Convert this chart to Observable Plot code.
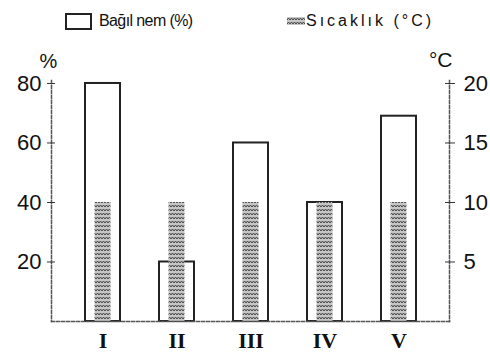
<!DOCTYPE html>
<html><head><meta charset="utf-8">
<script src="https://cdn.jsdelivr.net/npm/d3@7"></script>
<script src="https://cdn.jsdelivr.net/npm/@observablehq/plot@0.6"></script>
<style>
body{margin:0;background:#fff;width:490px;height:353px;overflow:hidden;font-family:"Liberation Sans",Arial,sans-serif;color:#111;}
#legend{position:relative;height:40px;}
#legend .box1{position:absolute;left:65px;top:13px;width:27px;height:17px;box-sizing:border-box;border:2px solid #222;background:#fff;}
#legend .sw2{position:absolute;left:287px;top:17px;}
#legend .t1{position:absolute;left:99px;top:11px;font-size:16px;line-height:20px;letter-spacing:-0.6px;white-space:nowrap;}
#legend .t2{position:absolute;left:306px;top:11px;font-size:16px;line-height:20px;letter-spacing:3px;white-space:nowrap;}
</style></head><body>
<div id="legend">
  <div class="box1"></div><div class="t1" id="lt1"></div>
  <svg class="sw2" width="18" height="8"><defs><pattern id="hatchL" width="6" height="4" patternUnits="userSpaceOnUse"><rect width="6" height="4" fill="#c6c6c6"/><path d="M0,3 L1.5,1 L3,3 L4.5,1 L6,3" stroke="#444" stroke-width="1" fill="none"/></pattern></defs><rect width="18" height="8" fill="url(#hatchL)"/></svg>
  <div class="t2" id="lt2"></div>
</div>
<div id="chart"></div>
<script>
const categories = ["I", "II", "III", "IV", "V"];
const humidity = [80, 20, 60, 40, 69];
const temperature = [10, 10, 10, 10, 10];
const humidityTicks = [20, 40, 60, 80];
const temperatureTicks = [5, 10, 15, 20];
const seriesNames = ["Bağıl nem (%)", "Sıcaklık (°C)"];
const axisUnits = ["%", "°C"];
const tempToPct = 4; // 20 °C on the right axis lines up with 80 % on the left

document.getElementById("lt1").textContent = seriesNames[0];
document.getElementById("lt2").textContent = seriesNames[1];

const data = categories.map((c, i) => ({cat: c, hum: humidity[i], temp: temperature[i]}));
const axisStyle = {stroke: "#555", strokeDasharray: "3,2", strokeWidth: 1.5};

const chart = Plot.plot({
  width: 490, height: 313,
  marginLeft: 51, marginRight: 41, marginTop: 40, marginBottom: 32,
  style: {fontFamily: "Liberation Sans, Arial, sans-serif", background: "white", overflow: "visible", color: "#111"},
  x: {domain: categories, paddingInner: 0.53, paddingOuter: 0.436, axis: null},
  y: {domain: [0, 81], axis: null},
  marks: [
    Plot.barY(data, {x: "cat", y: "hum", fill: "white", stroke: "#222", strokeWidth: 2}),
    Plot.barY(data, {x: "cat", y: d => d.temp * tempToPct, fill: "url(#hatch)", insetLeft: 9.5, insetRight: 9.5}),
    Plot.frame({anchor: "left", ...axisStyle}),
    Plot.frame({anchor: "right", ...axisStyle}),
    Plot.frame({anchor: "bottom", ...axisStyle}),
    Plot.axisY(humidityTicks, {anchor: "left", tickSize: 8, dx: 4, tickFormat: () => "", stroke: "#333", label: null}),
    Plot.axisY(humidityTicks, {anchor: "left", tickSize: 0, tickPadding: 10, fontSize: 22, fill: "#111", label: null}),
    Plot.axisY(temperatureTicks.map(t => t * tempToPct), {anchor: "right", tickSize: 10, dx: -5, tickFormat: () => "", stroke: "#333", label: null}),
    Plot.axisY(temperatureTicks.map(t => t * tempToPct), {anchor: "right", tickSize: 0, tickPadding: 14, fontSize: 22, fill: "#111", tickFormat: d => d / tempToPct, label: null}),
    Plot.axisX({tickSize: 0, tickPadding: 11, fontSize: 22, fontWeight: "bold", fontFamily: "Liberation Serif, serif", fill: "#111", label: null}),
    Plot.text([axisUnits[0]], {frameAnchor: "top-left", dx: -12, dy: -27, fontSize: 20, fill: "#111"}),
    Plot.text([axisUnits[1]], {frameAnchor: "top-right", dx: 3, dy: -28, fontSize: 21, fill: "#111"})
  ]
});

const svg = chart.tagName.toLowerCase() === "svg" ? chart : chart.querySelector("svg");
svg.insertAdjacentHTML("afterbegin", '<defs><pattern id="hatch" width="6" height="4" patternUnits="userSpaceOnUse"><rect width="6" height="4" fill="#c6c6c6"/><path d="M0,3 L1.5,1 L3,3 L4.5,1 L6,3" stroke="#444" stroke-width="1" fill="none"/></pattern></defs>');
document.getElementById("chart").appendChild(chart);
</script>
</body></html>
